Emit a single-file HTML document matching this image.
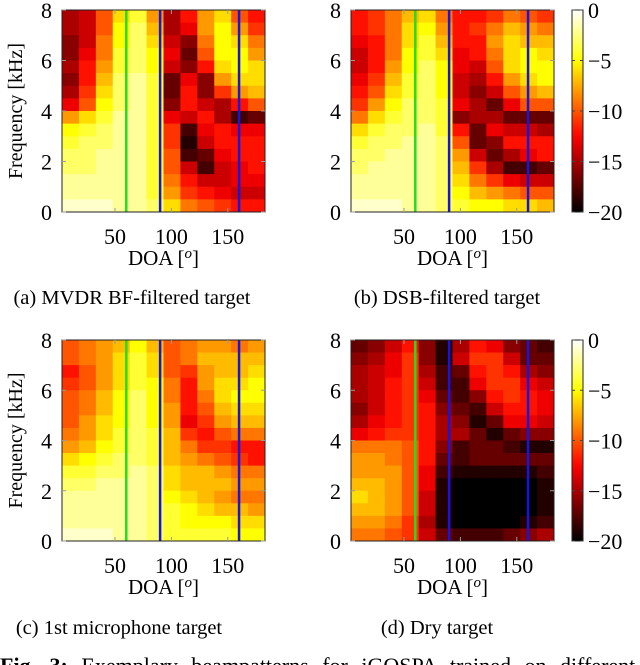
<!DOCTYPE html>
<html><head><meta charset="utf-8"><style>
body{margin:0;background:#fff;}
svg{display:block;font-family:"Liberation Serif",serif;}
</style></head><body>
<svg id="fig" width="640" height="665" viewBox="0 0 640 665" xmlns="http://www.w3.org/2000/svg"></svg>
<script>
const doaCenters=[10.5,25.5,40.5,55.5,70.5,85.5,100.5,115.5,130.5,145.5,160.5,175.5];
const freqCenters=[7.75,7.25,6.75,6.25,5.75,5.25,4.75,4.25,3.75,3.25,2.75,2.25,1.75,1.25,0.75,0.25];
const xTicks=[50,100,150];
const yTicks=[0,2,4,6,8];
const cbTicks=[0,-5,-10,-15,-20];
const targetDoa=[60];
const interfDoa=[90,160];
const dataMVDR=[
[-15,-14,-10,-6,-4,-8,-15,-12,-8,-6,-10,-12],
[-15,-14,-10,-5,-3,-7,-15,-13,-8,-5,-8,-11],
[-16,-14,-9,-5,-3,-6,-14,-16,-9,-5,-6,-9],
[-16,-13,-9,-4,-3,-5,-13,-17,-10,-5,-5,-8],
[-15,-12,-8,-4,-3,-5,-14,-16,-12,-6,-5,-6],
[-16,-12,-7,-3,-2,-4,-17,-13,-16,-8,-6,-6],
[-15,-11,-6,-3,-2,-4,-17,-12,-16,-11,-8,-7],
[-13,-10,-5,-3,-2,-4,-16,-12,-14,-15,-12,-10],
[-8,-6,-4,-2,-2,-4,-13,-14,-12,-15,-18,-17],
[-5,-4,-3,-2,-2,-4,-11,-18,-13,-12,-13,-13],
[-4,-3,-3,-2,-2,-4,-11,-19,-14,-12,-12,-12],
[-3,-3,-2,-2,-2,-4,-10,-18,-17,-13,-12,-12],
[-3,-3,-2,-2,-2,-4,-10,-14,-18,-14,-13,-12],
[-2,-2,-2,-2,-2,-4,-9,-12,-14,-14,-13,-13],
[-2,-2,-2,-2,-2,-4,-8,-11,-12,-13,-14,-14],
[-1,-1,-1,-2,-2,-3,-6,-9,-10,-11,-12,-12]];
const dataDSB=[
[-12,-11,-9,-7,-6,-9,-12,-12,-11,-9,-10,-11],
[-12,-11,-9,-6,-5,-8,-12,-11,-9,-7,-8,-9],
[-13,-12,-9,-6,-4,-7,-12,-12,-8,-6,-7,-7],
[-14,-12,-9,-5,-4,-6,-13,-12,-9,-6,-5,-6],
[-14,-12,-8,-5,-3,-5,-13,-14,-10,-6,-5,-5],
[-13,-11,-7,-4,-3,-5,-14,-15,-12,-8,-6,-5],
[-12,-10,-6,-4,-3,-5,-14,-16,-14,-10,-8,-7],
[-11,-8,-5,-3,-3,-4,-13,-15,-17,-13,-10,-10],
[-9,-6,-4,-3,-3,-4,-16,-15,-15,-17,-17,-17],
[-6,-4,-3,-3,-2,-4,-12,-17,-13,-14,-14,-15],
[-4,-3,-3,-2,-2,-3,-10,-17,-16,-12,-12,-12],
[-3,-3,-2,-2,-2,-3,-8,-14,-17,-15,-13,-12],
[-3,-2,-2,-2,-2,-3,-7,-11,-15,-18,-18,-17],
[-2,-2,-2,-2,-2,-3,-6,-9,-11,-13,-14,-14],
[-2,-2,-2,-2,-2,-3,-5,-7,-8,-9,-10,-10],
[-1,-1,-1,-2,-2,-3,-4,-5,-5,-6,-6,-7]];
const dataMic=[
[-10,-9,-8,-7,-5,-7,-10,-9,-8,-8,-9,-8],
[-10,-9,-8,-6,-4,-6,-10,-9,-7,-7,-7,-7],
[-12,-10,-8,-6,-4,-6,-10,-11,-8,-7,-7,-6],
[-11,-10,-8,-6,-4,-5,-9,-12,-8,-6,-6,-5],
[-10,-9,-7,-5,-3,-5,-9,-12,-9,-6,-5,-5],
[-10,-9,-7,-5,-3,-5,-8,-12,-10,-7,-6,-6],
[-10,-8,-6,-5,-3,-5,-8,-13,-11,-8,-7,-7],
[-9,-8,-6,-4,-3,-4,-7,-11,-12,-10,-9,-9],
[-8,-7,-5,-4,-3,-4,-7,-9,-11,-11,-12,-12],
[-6,-5,-4,-3,-3,-4,-7,-8,-9,-10,-11,-12],
[-4,-4,-3,-3,-2,-3,-6,-7,-7,-8,-9,-9],
[-3,-3,-2,-2,-2,-3,-6,-7,-7,-7,-8,-8],
[-2,-2,-2,-2,-2,-3,-5,-6,-7,-8,-9,-9],
[-2,-2,-2,-2,-2,-3,-4,-5,-6,-7,-7,-8],
[-2,-2,-2,-2,-2,-3,-4,-5,-5,-5,-6,-6],
[-1,-1,-1,-2,-2,-3,-4,-4,-4,-4,-5,-5]];
const dataDry=[
[-17,-16,-14,-12,-16,-19,-15,-12,-13,-16,-17,-18],
[-16,-15,-13,-11,-16,-19,-14,-11,-11,-14,-17,-17],
[-15,-14,-13,-11,-15,-18,-17,-12,-11,-12,-15,-16],
[-15,-14,-12,-11,-14,-18,-18,-13,-11,-11,-13,-14],
[-15,-14,-12,-11,-13,-17,-18,-16,-12,-11,-12,-13],
[-16,-14,-12,-11,-12,-16,-17,-18,-14,-12,-12,-13],
[-15,-13,-12,-11,-12,-15,-16,-19,-17,-13,-13,-14],
[-13,-12,-11,-11,-12,-15,-15,-17,-19,-17,-16,-16],
[-9,-9,-9,-10,-12,-16,-18,-17,-17,-18,-19,-19],
[-8,-8,-9,-10,-12,-17,-18,-17,-17,-17,-17,-17],
[-8,-8,-8,-10,-13,-18,-19,-19,-19,-19,-19,-18],
[-7,-7,-8,-10,-13,-19,-20,-20,-20,-20,-20,-19],
[-6,-7,-8,-10,-14,-19,-20,-20,-20,-20,-20,-19],
[-7,-7,-8,-10,-14,-19,-20,-20,-20,-20,-20,-19],
[-8,-8,-9,-11,-15,-19,-20,-20,-20,-20,-19,-18],
[-9,-9,-10,-11,-14,-17,-18,-18,-18,-17,-16,-15]];

const NS="http://www.w3.org/2000/svg";
const svg=document.getElementById('fig');
function el(tag,attrs,parent){const e=document.createElementNS(NS,tag);for(const k in attrs)e.setAttribute(k,attrs[k]);(parent||svg).appendChild(e);return e;}
function hot(v){let t=Math.max(0,Math.min(1,(v+20)/20));
 const r=Math.min(1,t/0.375),g=Math.max(0,Math.min(1,(t-0.375)/0.375)),b=Math.max(0,Math.min(1,(t-0.75)/0.25));
 return `rgb(${Math.round(r*255)},${Math.round(g*255)},${Math.round(b*255)})`;}
function txt(x,y,s,size,anchor,parent,name){const t=el('text',{x:x,y:y,'font-size':size,'text-anchor':anchor||'middle'},parent);t.textContent=s;
 
 
 return t;}

function panel(id,data,x0,y0,w,h,showY,caption,capX,capY,hasCb){
 const g=el('g',{});
 
 
 const xs=d=>x0+(d-3)/180*w;
 const ys=f=>y0+(8-f)/8*h;
 const hm=el('g',{},g);
 
 
 freqCenters.forEach((f,i)=>{doaCenters.forEach((d,j)=>{
   const x1=xs(d-7.5),x2=xs(d+7.5),y1=ys(f+0.25),y2=ys(f-0.25);
   const r=el('rect',{x:x1,y:y1,width:x2-x1+0.4,height:y2-y1+0.4,fill:hot(data[i][j])},hm);
   
   
 });});
 targetDoa.forEach(d=>{const l=el('line',{x1:xs(d),x2:xs(d),y1:y0,y2:y0+h,stroke:'#22dd22','stroke-width':2.5},g);
   
   });
 interfDoa.forEach(d=>{const l=el('line',{x1:xs(d),x2:xs(d),y1:y0,y2:y0+h,stroke:'#1515dd','stroke-width':2.5},g);
   
   });
 const fr=el('rect',{x:x0,y:y0,width:w,height:h,fill:'none',stroke:'#222','stroke-width':1},g);
 
 
 xTicks.forEach(t=>{el('line',{x1:xs(t),x2:xs(t),y1:y0+h,y2:y0+h-4,stroke:'#999'},g);el('line',{x1:xs(t),x2:xs(t),y1:y0,y2:y0+4,stroke:'#999'},g);
   txt(xs(t),y0+h+32,String(t),22,'middle',g,'x-tick-label');});
 yTicks.forEach(t=>{el('line',{x1:x0,x2:x0+4,y1:ys(t),y2:ys(t),stroke:'#999'},g);el('line',{x1:x0+w,x2:x0+w-4,y1:ys(t),y2:ys(t),stroke:'#999'},g);
   txt(x0-10,ys(t)+8,String(t),22,'end',g,'y-tick-label');});
 txt(x0+w/2,y0+h+53,'DOA [',21,'middle',g,'x-axis-title').innerHTML='DOA [<tspan font-style="italic" font-size="15" dy="-7">o</tspan><tspan dy="7">]</tspan>';
 if(showY){const t=txt(0,0,'Frequency [kHz]',20,'middle',g,'y-axis-title');t.setAttribute('transform',`translate(22,${y0+h/2}) rotate(-90)`);}
 txt(capX,capY,caption,20.5,'middle',g,'panel-caption');
 if(hasCb){
   const cx=572,cw=11;
   const defs=el('defs',{},g);
   const lg=el('linearGradient',{id:'cbg'+id,x1:0,y1:0,x2:0,y2:1},defs);
   for(let k=0;k<=20;k++){el('stop',{offset:(k/20),'stop-color':hot(-k)},lg);}
   const cb=el('rect',{x:cx,y:y0,width:cw,height:h,fill:`url(#cbg${id})`,stroke:'#222','stroke-width':1},g);
   
   
   cbTicks.forEach(v=>{const yy=y0+(-v)/20*h;
     el('line',{x1:cx,x2:cx+3,y1:yy,y2:yy,stroke:'#444'},g);el('line',{x1:cx+cw,x2:cx+cw-3,y1:yy,y2:yy,stroke:'#444'},g);
     txt(cx+cw+5,yy+8,v===0?'0':'\u2212'+(-v),22,'start',g,'colorbar-tick-label');});
 }
}
panel('a',dataMVDR,62,10,203,202,true,'(a) MVDR BF-filtered target',132,304,false);
panel('b',dataDSB,351,10,203,202,false,'(b) DSB-filtered target',447,304,true);
panel('c',dataMic,62,340,203,201,true,'(c) 1st microphone target',119,634,false);
panel('d',dataDry,351,340,203,201,false,'(d) Dry target',437,634,true);
const fc=el('text',{x:0,y:673,'font-size':22,'word-spacing':8});


fc.innerHTML='<tspan font-weight="bold">Fig. 3:</tspan> Exemplary beampatterns for iGOSPA trained on different';
</script>
</body></html>
